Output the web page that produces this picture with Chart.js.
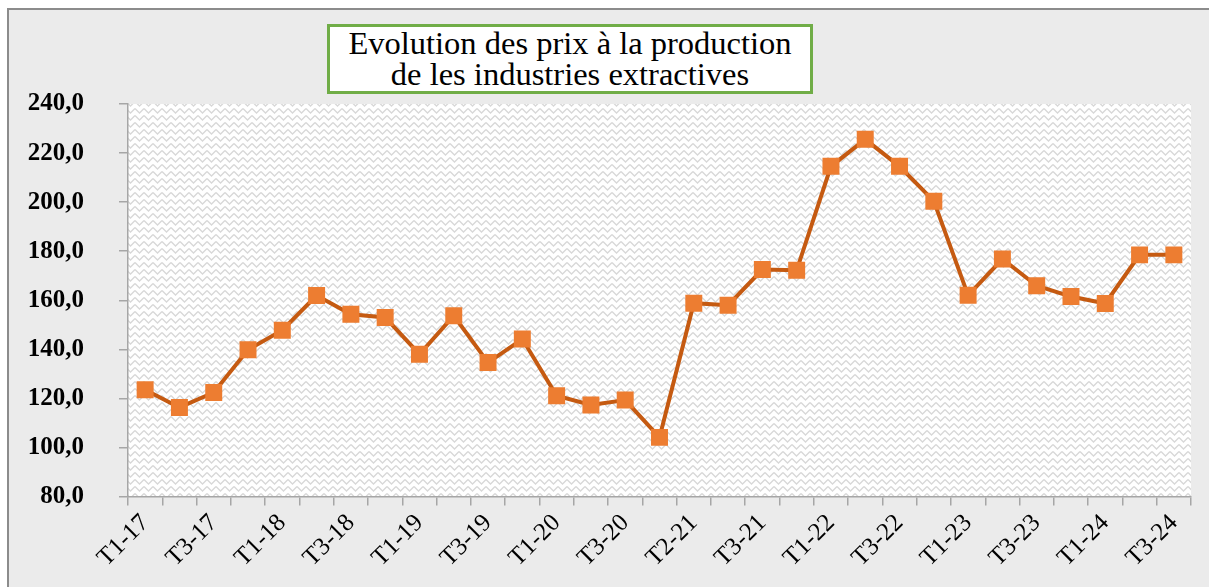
<!DOCTYPE html>
<html>
<head>
<meta charset="utf-8">
<script src="https://cdn.jsdelivr.net/npm/chart.js@4.4.0/dist/chart.umd.min.js"></script>
<style>
  body { margin: 0; background: #fff; width: 1209px; height: 587px; overflow: hidden; }
  #frame {
    position: absolute; left: 7px; top: 8px; width: 1202px; height: 579px;
    background: #ebebeb; border-left: 2px solid #8c8c8c; border-top: 2px solid #8c8c8c;
    box-sizing: border-box;
  }
  #chartWrap { position: absolute; left: 0; top: 0; width: 1200px; height: 577px; }
  #titleBox {
    position: absolute; left: 327px; top: 24px; width: 486px; height: 70px;
    box-sizing: border-box; border: 3px solid #70ad47; background: #fff;
    font-family: "Liberation Serif", serif; font-size: 32.5px; line-height: 31px;
    text-align: center; color: #000; padding-top: 1px; z-index: 2; white-space: nowrap;
  }
</style>
</head>
<body>
<div id="frame">
  <div id="chartWrap"><canvas id="prixChart" width="1200" height="577"></canvas></div>
</div>
<div id="titleBox">Evolution des prix à la production<br>de les industries extractives</div>
<script>
// trimestres (une étiquette sur deux est affichée)
const quarters = [
  'T1-17', 'T2-17', 'T3-17', 'T4-17',
  'T1-18', 'T2-18', 'T3-18', 'T4-18',
  'T1-19', 'T2-19', 'T3-19', 'T4-19',
  'T1-20', 'T2-20', 'T3-20', 'T4-20',
  'T2-21', 'T2-21', 'T3-21', 'T4-21',
  'T1-22', 'T2-22', 'T3-22', 'T4-22',
  'T1-23', 'T2-23', 'T3-23', 'T4-23',
  'T1-24', 'T2-24', 'T3-24'
];

const prixValues = [
  123.5, 116.3, 122.4, 139.8,
  147.8, 161.9, 154.3, 153.0,
  138.0, 153.7, 134.6, 144.2,
  121.1, 117.3, 119.3, 104.1,
  158.8, 158.0, 172.5, 172.2,
  214.6, 225.6, 214.6, 200.4,
  162.0, 176.8, 165.9, 161.5,
  158.7, 178.5, 178.5
];

const yMin = 80;
const yMax = 240;
const yStep = 20;

// motif en zigzag pour le fond de la zone de tracé
function makePattern() {
  const c = document.createElement('canvas');
  c.width = 9; c.height = 7;
  const g = c.getContext('2d');
  g.fillStyle = '#ffffff';
  g.fillRect(0, 0, 9, 7);
  g.strokeStyle = '#d8d8d8';
  g.lineWidth = 1.3;
  g.beginPath();
  g.moveTo(0, 0.5); g.lineTo(4.5, 5); g.lineTo(9, 0.5);
  g.stroke();
  return g.createPattern(c, 'repeat');
}

const plotBackground = {
  id: 'plotBackground',
  beforeDraw(chart) {
    const { ctx, chartArea } = chart;
    ctx.save();
    ctx.fillStyle = makePattern();
    ctx.fillRect(chartArea.left, chartArea.top, chartArea.right - chartArea.left, chartArea.bottom - chartArea.top);
    ctx.restore();
  }
};

const ctx = document.getElementById('prixChart').getContext('2d');
new Chart(ctx, {
  type: 'line',
  data: {
    labels: quarters,
    datasets: [{
      label: 'Prix à la production',
      data: prixValues,
      borderColor: '#c55a11',
      borderWidth: 4,
      pointStyle: 'rect',
      pointRadius: 12,
      pointHoverRadius: 12,
      pointBackgroundColor: '#ed7d31',
      pointBorderColor: '#ed7d31',
      pointBorderWidth: 0,
      tension: 0,
      fill: false
    }]
  },
  options: {
    responsive: false,
    animation: false,
    layout: { padding: { left: 0, top: 94, right: 18, bottom: 0 } },
    plugins: {
      legend: { display: false },
      tooltip: { enabled: false }
    },
    scales: {
      x: {
        offset: true,
        afterFit(scale) { scale.height = 90.5; },
        border: { display: true, color: '#a6a6a6', width: 1.5 },
        grid: {
          offset: true,
          drawOnChartArea: false,
          drawTicks: true,
          tickLength: 9,
          color: '#a6a6a6',
          lineWidth: 1.5
        },
        ticks: {
          autoSkip: false,
          minRotation: 45,
          maxRotation: 45,
          padding: 3,
          color: '#000',
          font: { family: 'Liberation Serif', size: 25 },
          callback(value, index) { return index % 2 === 0 ? quarters[index] : ''; }
        }
      },
      y: {
        min: yMin,
        max: yMax,
        afterFit(scale) { scale.width = 119; },
        border: { display: true, color: '#a6a6a6', width: 1.5 },
        grid: {
          drawOnChartArea: false,
          drawTicks: true,
          tickLength: 9,
          color: '#a6a6a6',
          lineWidth: 1.5
        },
        ticks: {
          stepSize: yStep,
          padding: 35,
          color: '#000',
          font: { family: 'Liberation Serif', size: 25, weight: 'bold' },
          callback(value) { return value.toFixed(1).replace('.', ','); }
        }
      }
    }
  },
  plugins: [plotBackground]
});
</script>
</body>
</html>
